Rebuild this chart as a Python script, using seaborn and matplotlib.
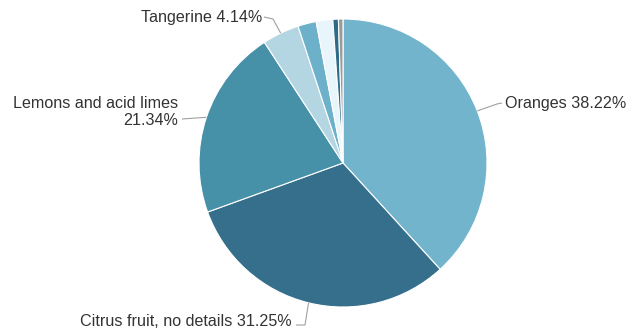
import numpy as np
import matplotlib
matplotlib.use("Agg")
import matplotlib.pyplot as plt
import seaborn as sns

# ---- data ----
categories = ["Oranges", "Citrus fruit, no details", "Lemons and acid limes",
              "Tangerine", "Grapefruit and pomelos", "Other citrus",
              "Bergamot", "Citron"]
shares = [38.22, 31.25, 21.34, 4.14, 2.06, 1.86, 0.62, 0.51]
colors = ["#73b4cd", "#356f8b", "#4690a8", "#b4d6e3",
          "#6cb0c9", "#e8f5fb", "#2d6b88", "#9b9b9b"]
label_texts = {0: "Oranges 38.22%",
               1: "Citrus fruit, no details 31.25%",
               2: "Lemons and acid limes\n21.34%",
               3: "Tangerine 4.14%"}

# ---- layout (pixels of the 627x330 canvas) ----
W, H = 627, 330
CX, CY, R = 343, 163, 144

def to_data(x, y):
    return (x - CX) / R, (CY - y) / R

# text anchor (px), horizontal alignment, elbow (px), line end (px)
label_layout = {
    0: dict(text=(505, 103), ha="left", elbow=(497, 104), end=(502, 103)),
    1: dict(text=(292, 322), ha="right", elbow=(305, 325), end=(296, 325)),
    2: dict(text=(178, 112), ha="right", elbow=(182, 119), end=(182, 119)),
    3: dict(text=(262, 17), ha="right", elbow=(273, 19), end=(264, 17)),
}

sns.set_theme(style="white")
plt.rcParams["font.family"] = ["Liberation Sans", "DejaVu Sans"]

fig = plt.figure(figsize=(W / 100, H / 100), dpi=100)
ax = fig.add_axes([0, 0, 1, 1])

wedges, _ = ax.pie(shares, colors=colors, startangle=90, counterclock=False,
                   radius=1.0, center=(0, 0),
                   wedgeprops=dict(edgecolor="white", linewidth=0.8))
ax.set_xlim(-CX / R, (W - CX) / R)
ax.set_ylim((CY - H) / R, CY / R)
ax.set_aspect("equal")
ax.axis("off")

for i, txt in label_texts.items():
    w = wedges[i]
    mid = np.deg2rad((w.theta1 + w.theta2) / 2)
    sx, sy = np.cos(mid), np.sin(mid)
    lay = label_layout[i]
    ex, ey = to_data(*lay["elbow"])
    nx, ny = to_data(*lay["end"])
    ax.plot([sx, ex, nx], [sy, ey, ny], color="#a0a0a0", lw=0.8,
            solid_capstyle="butt")
    tx, ty = to_data(*lay["text"])
    ax.text(tx, ty, txt, ha=lay["ha"], va="center", fontsize=11.6,
            color="#333333", multialignment=lay["ha"], linespacing=1.2)

fig.savefig("out.png", dpi=100)
